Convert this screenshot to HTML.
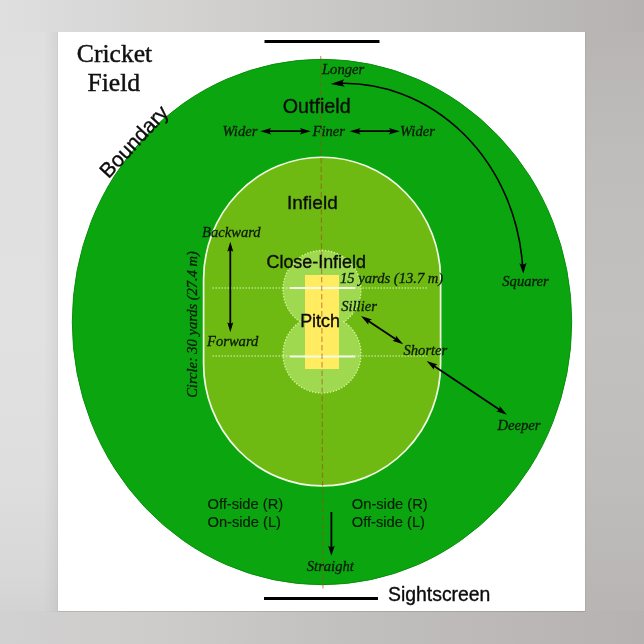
<!DOCTYPE html>
<html><head><meta charset="utf-8">
<style>
html,body{margin:0;padding:0;width:644px;height:644px;overflow:hidden;background:#c9c8c7;}
svg{display:block;filter:blur(0.3px);}
.sans{font-family:"Liberation Sans",sans-serif;}
.serif{font-family:"Liberation Serif",serif;}
.it{font-family:"Liberation Serif",serif;font-style:italic;font-size:14.6px;fill:#0a1a0a;}
</style></head>
<body>
<svg width="644" height="644" viewBox="0 0 644 644">
<defs>
  <linearGradient id="gtop" x1="0" y1="0" x2="644" y2="0" gradientUnits="userSpaceOnUse">
    <stop offset="0" stop-color="rgb(224,223,223)"/>
    <stop offset="0.49" stop-color="rgb(202,201,200)"/>
    <stop offset="1" stop-color="rgb(181,178,177)"/>
  </linearGradient>
  <linearGradient id="gbot" x1="0" y1="0" x2="644" y2="0" gradientUnits="userSpaceOnUse">
    <stop offset="0" stop-color="rgb(210,209,209)"/>
    <stop offset="0.25" stop-color="rgb(205,204,203)"/>
    <stop offset="0.49" stop-color="rgb(195,194,192)"/>
    <stop offset="0.745" stop-color="rgb(188,185,184)"/>
    <stop offset="1" stop-color="rgb(181,178,177)"/>
  </linearGradient>
  <linearGradient id="gleft" x1="0" y1="0" x2="0" y2="644" gradientUnits="userSpaceOnUse">
    <stop offset="0" stop-color="rgb(224,223,223)"/>
    <stop offset="0.51" stop-color="rgb(226,225,225)"/>
    <stop offset="0.745" stop-color="rgb(223,222,222)"/>
    <stop offset="0.9" stop-color="rgb(216,215,215)"/>
    <stop offset="1" stop-color="rgb(208,207,207)"/>
  </linearGradient>
  <linearGradient id="gright" x1="0" y1="0" x2="0" y2="644" gradientUnits="userSpaceOnUse">
    <stop offset="0" stop-color="rgb(182,179,178)"/>
    <stop offset="0.25" stop-color="rgb(191,189,187)"/>
    <stop offset="0.51" stop-color="rgb(195,193,192)"/>
    <stop offset="0.745" stop-color="rgb(191,189,187)"/>
    <stop offset="1" stop-color="rgb(182,179,178)"/>
  </linearGradient>
</defs>
<rect x="0" y="0" width="644" height="644" fill="rgb(200,199,198)"/>
<rect x="0" y="0" width="58" height="644" fill="url(#gleft)"/>
<rect x="585" y="0" width="59" height="644" fill="url(#gright)"/>
<rect x="0" y="0" width="644" height="32" fill="url(#gtop)"/>
<rect x="0" y="611" width="644" height="33" fill="url(#gbot)"/>
<!-- paper shadow -->
<linearGradient id="shl" x1="44" y1="0" x2="58" y2="0" gradientUnits="userSpaceOnUse">
  <stop offset="0" stop-color="#000" stop-opacity="0"/>
  <stop offset="1" stop-color="#000" stop-opacity="0.05"/>
</linearGradient>
<rect x="44" y="32" width="14" height="580" fill="url(#shl)"/>
<rect x="57" y="32" width="1" height="579" fill="#000" opacity="0.03"/>
<rect x="58" y="611" width="527" height="1" fill="#000" opacity="0.12"/>
<rect x="585" y="32" width="1" height="580" fill="#000" opacity="0.06"/>
<rect x="58" y="32" width="527" height="579" fill="#ffffff"/>

<!-- outfield -->
<ellipse cx="322" cy="322" rx="249.7" ry="262.7" fill="#0ba60f" stroke="#088f0c" stroke-width="1"/>
<!-- infield stadium -->
<path d="M203.6,279.2 A118.5,122 0 0 1 440.6,279.2 L440.6,364 A118.5,122 0 0 1 203.6,364 Z" fill="#6eba12" stroke="#f2fbe4" stroke-width="1.7"/>

<!-- dotted crease lines -->
<line x1="212.5" y1="288" x2="427" y2="288" stroke="#e8f6d0" stroke-width="1.2" stroke-dasharray="1.4,1.6"/>
<line x1="212.5" y1="356" x2="427" y2="356" stroke="#e8f6d0" stroke-width="1.2" stroke-dasharray="1.4,1.6"/>

<!-- close infield -->
<path d="M300.1,321.75 A39,39 0 1 1 343.9,321.75 A39,39 0 1 1 300.1,321.75 Z" fill="#9fd950" stroke="#d8f6a8" stroke-width="1.3" stroke-dasharray="1.3,1.7"/>
<line x1="283" y1="288" x2="361" y2="288" stroke="#e8f6d0" stroke-width="1.2" stroke-dasharray="1.4,1.6"/>
<line x1="283" y1="356" x2="361" y2="356" stroke="#e8f6d0" stroke-width="1.2" stroke-dasharray="1.4,1.6"/>

<!-- pitch -->
<rect x="305" y="275" width="34" height="94" fill="#ffec60"/>
<!-- creases -->
<line x1="290" y1="288" x2="355" y2="288" stroke="#f4fae8" stroke-width="2"/>
<line x1="290" y1="356.5" x2="355" y2="356.5" stroke="#f4fae8" stroke-width="2"/>

<!-- centre line -->
<line x1="320.7" y1="56" x2="323" y2="589" stroke="#a04818" stroke-opacity="0.55" stroke-width="1.2" stroke-dasharray="5.5,3"/>

<!-- sightscreens -->
<rect x="264.5" y="40" width="115" height="3" fill="#000"/>
<rect x="264" y="597" width="114" height="3" fill="#000"/>

<!-- titles -->
<g fill="#111" stroke="#111" stroke-width="0.45">
<text class="serif" x="114.5" y="62" font-size="25.6" text-anchor="middle">Cricket</text>
<text class="serif" x="113.8" y="90.5" font-size="25.6" text-anchor="middle">Field</text>
</g>
<g class="sans" fill="#0c0c0c" stroke="#0c0c0c" stroke-width="0.35">
<text font-size="21" transform="translate(108.4,179.2) rotate(-47)">Boundary</text>
<text x="388" y="601" font-size="19.4">Sightscreen</text>
<text x="282.8" y="113" font-size="19.7">Outfield</text>
<text x="287" y="208.7" font-size="19">Infield</text>
<text x="266.5" y="268" font-size="17.9">Close-Infield</text>
<text x="300.2" y="327.4" font-size="17.9">Pitch</text>
</g>
<g class="sans" fill="#0a1a0a" stroke="#0a1a0a" stroke-width="0.15">
<text x="207.5" y="508.6" font-size="14.7">Off-side (R)</text>
<text x="207.5" y="526.6" font-size="14.7">On-side (L)</text>
<text x="351.8" y="508.6" font-size="14.7">On-side (R)</text>
<text x="351.8" y="526.6" font-size="14.7">Off-side (L)</text>
</g>

<!-- italic labels -->
<g class="it" stroke="#0a1a0a" stroke-width="0.3">
<text x="322" y="74">Longer</text>
<text x="222.5" y="136">Wider</text>
<text x="312.5" y="136">Finer</text>
<text x="400" y="136">Wider</text>
<text x="202" y="237.4">Backward</text>
<text x="207" y="345.7">Forward</text>
<text x="340" y="283">15 yards (13.7 m)</text>
<text x="341.2" y="310.5">Sillier</text>
<text x="403.5" y="354.8">Shorter</text>
<text x="502.3" y="285.7">Squarer</text>
<text x="497.5" y="430">Deeper</text>
<text x="306.8" y="571.4">Straight</text>
<text font-size="14.5" transform="translate(196.5,397.8) rotate(-90)">Circle: 30 yards (27.4 m)</text>
</g>

<!-- arrows -->
<g stroke="#000" stroke-width="1.8" fill="none">
  <line x1="265" y1="131.2" x2="306" y2="131.2"/>
  <line x1="354" y1="131.2" x2="395" y2="131.2"/>
  <line x1="230.3" y1="246" x2="230.3" y2="328"/>
  <line x1="365" y1="318.8" x2="399.2" y2="341.6"/>
  <line x1="430.6" y1="363.8" x2="503" y2="412"/>
  <line x1="331.4" y1="512" x2="331.4" y2="551"/>
  <path d="M335.95,83.42 A179.532,197.0936 0 0 1 522.72,268.32" stroke-width="1.6"/>
</g>
<g fill="#000">
  <path d="M0,0 L-11,-3.2 C-9,-1.2 -9,1.2 -11,3.2 Z" transform="translate(260.2,131.2) rotate(180)"/>
  <path d="M0,0 L-11,-3.2 C-9,-1.2 -9,1.2 -11,3.2 Z" transform="translate(310.8,131.2)"/>
  <path d="M0,0 L-11,-3.2 C-9,-1.2 -9,1.2 -11,3.2 Z" transform="translate(349.6,131.2) rotate(180)"/>
  <path d="M0,0 L-11,-3.2 C-9,-1.2 -9,1.2 -11,3.2 Z" transform="translate(399.8,131.2)"/>
  <path d="M0,0 L-10,-3 C-8.3,-1.1 -8.3,1.1 -10,3 Z" transform="translate(230.3,241.7) rotate(-90)"/>
  <path d="M0,0 L-10,-3 C-8.3,-1.1 -8.3,1.1 -10,3 Z" transform="translate(230.3,332.3) rotate(90)"/>
  <path d="M0,0 L-11,-3.2 C-9,-1.2 -9,1.2 -11,3.2 Z" transform="translate(361,316.1) rotate(213.75)"/>
  <path d="M0,0 L-11,-3.2 C-9,-1.2 -9,1.2 -11,3.2 Z" transform="translate(403.2,344.3) rotate(33.75)"/>
  <path d="M0,0 L-11,-3.2 C-9,-1.2 -9,1.2 -11,3.2 Z" transform="translate(426.6,361.1) rotate(213.6)"/>
  <path d="M0,0 L-11,-3.2 C-9,-1.2 -9,1.2 -11,3.2 Z" transform="translate(507,414.7) rotate(33.7)"/>
  <path d="M0,0 L-10,-3.3 C-8.3,-1.2 -8.3,1.2 -10,3.3 Z" transform="translate(331.4,555.7) rotate(90)"/>
  <path d="M0,0 L-14,-3.8 C-11.5,-1.3 -11.5,1.3 -14,3.8 Z" transform="translate(330.6,83.9) rotate(176)"/>
  <path d="M0,0 L-10.5,-3.6 C-8.7,-1.3 -8.7,1.3 -10.5,3.6 Z" transform="translate(523.3,273.6) rotate(88.1)"/>
</g>
</svg>
</body></html>
